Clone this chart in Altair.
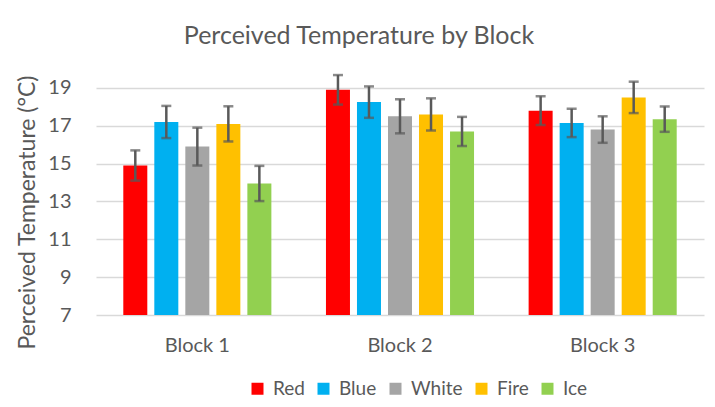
import altair as alt
import pandas as pd

blocks = ["Block 1", "Block 2", "Block 3"]
conditions = ["Red", "Blue", "White", "Fire", "Ice"]
colors = ["#FF0000", "#00B0F0", "#A5A5A5", "#FFC000", "#92D050"]

means_b1 = [14.9, 17.2, 15.9, 17.1, 13.95]
means_b2 = [18.9, 18.25, 17.5, 17.6, 16.7]
means_b3 = [17.8, 17.15, 16.8, 18.5, 17.35]
errs_b1 = [0.8, 0.85, 1.0, 0.93, 0.93]
errs_b2 = [0.78, 0.83, 0.9, 0.85, 0.77]
errs_b3 = [0.76, 0.75, 0.7, 0.83, 0.67]

rows = []
for b, ms, es in zip(blocks, [means_b1, means_b2, means_b3], [errs_b1, errs_b2, errs_b3]):
    for c, m, e in zip(conditions, ms, es):
        rows.append({"Block": b, "Condition": c, "Mean": m, "Lo": m - e, "Hi": m + e})
df = pd.DataFrame(rows)

FONT = "Lato"
GREY = "#595959"

x = alt.X("Block:N", sort=blocks, scale=alt.Scale(paddingInner=0, paddingOuter=0),
          axis=alt.Axis(title=None, labelAngle=0, domain=False, ticks=False, tickSize=0,
                        labelFont=FONT, labelFontSize=20, labelColor=GREY,
                        labelBaseline="alphabetic", labelPadding=36))
xo = alt.XOffset("Condition:N", sort=conditions,
                 scale=alt.Scale(paddingInner=0.226, paddingOuter=0.88))

yscale = alt.Scale(domain=[7, 20], nice=False, zero=False)

bars = alt.Chart(df).mark_bar().encode(
    x=x,
    xOffset=xo,
    y=alt.Y("Mean:Q", scale=yscale,
            axis=alt.Axis(title="Perceived Temperature (°C)", values=[7, 9, 11, 13, 15, 17, 19],
                          domain=False, ticks=False, tickSize=0, labelPadding=25,
                          labelFont=FONT, labelFontSize=20, labelColor=GREY,
                          gridColor="#D9D9D9", gridWidth=1.5,
                          titleFont=FONT, titleFontSize=23, titleColor=GREY,
                          titleFontWeight="normal", titleAngle=-90,
                          titleX=-69, titleY=143, titleBaseline="middle", titleAlign="center")),
    y2=alt.datum(7),
    color=alt.Color("Condition:N", sort=conditions,
                    scale=alt.Scale(domain=conditions, range=colors),
                    legend=alt.Legend(title=None, orient="none", direction="horizontal",
                                      legendX=152, legendY=310, symbolType="square",
                                      symbolSize=144, symbolStrokeWidth=0, labelOffset=6,
                                      columnPadding=9, padding=0,
                                      labelFont=FONT, labelFontSize=19, labelColor=GREY)),
)

rules = alt.Chart(df).mark_rule(color=GREY, strokeWidth=2.5).encode(
    x=x, xOffset=xo, y=alt.Y("Lo:Q", scale=yscale), y2="Hi:Q"
)
caps_lo = alt.Chart(df).mark_tick(color=GREY, thickness=2.5, size=10, orient="horizontal").encode(
    x=x, xOffset=xo, y=alt.Y("Lo:Q", scale=yscale)
)
caps_hi = alt.Chart(df).mark_tick(color=GREY, thickness=2.5, size=10, orient="horizontal").encode(
    x=x, xOffset=xo, y=alt.Y("Hi:Q", scale=yscale)
)

chart = alt.layer(bars, rules, caps_lo, caps_hi).properties(
    width=608, height=246,
    title=alt.TitleParams("Perceived Temperature by Block", font=FONT, fontSize=25,
                          fontWeight="normal", color=GREY, anchor="middle", frame="group",
                          dx=-41, offset=0, baseline="alphabetic"),
    autosize=alt.AutoSizeParams(type="none"),
    padding={"left": 88, "top": 61, "right": 3, "bottom": 85},
    background="white",
).configure_view(strokeWidth=0, stroke=None)

chart.save("out.html", embed_options={"renderer": "svg", "actions": False})
